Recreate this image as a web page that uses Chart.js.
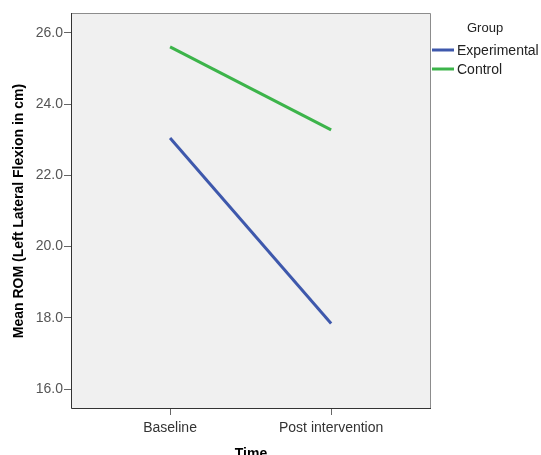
<!DOCTYPE html>
<html>
<head>
<meta charset="utf-8">
<script src="https://cdn.jsdelivr.net/npm/chart.js@4"></script>
<style>
  html, body { margin: 0; padding: 0; background: #fff; }
  #wrap { width: 541px; height: 455px; }
</style>
</head>
<body>
<div id="wrap"><canvas id="romChart"></canvas></div>
<script>
const timePoints = ["Baseline", "Post intervention"]
const experimental = [23.05, 17.84]
const control = [25.61, 23.28]
const yTicks = [16, 18, 20, 22, 24, 26]

const fontFamily = "'Liberation Sans', Arial, sans-serif"

// plot background + frame like SPSS output
const framePlugin = {
    id: "frame",
    beforeDraw(chart) {
        const { ctx, chartArea: a } = chart
        ctx.save()
        ctx.fillStyle = "#f0f0f0"
        ctx.fillRect(a.left, a.top, a.right - a.left, a.bottom - a.top)
        ctx.restore()
    },
    afterDatasetsDraw(chart) {
        const { ctx, chartArea: a } = chart
        ctx.save()
        ctx.lineWidth = 1
        ctx.strokeStyle = "#8c8c8c"
        ctx.beginPath()
        ctx.moveTo(a.left, a.top + 0.5)
        ctx.lineTo(a.right - 0.5, a.top + 0.5)
        ctx.lineTo(a.right - 0.5, a.bottom)
        ctx.stroke()
        ctx.strokeStyle = "#333"
        ctx.beginPath()
        ctx.moveTo(a.left + 0.5, a.top)
        ctx.lineTo(a.left + 0.5, a.bottom - 0.5)
        ctx.lineTo(a.right, a.bottom - 0.5)
        ctx.stroke()
        ctx.restore()
    }
}

// legend on the right with a "Group" heading
const groupLegend = {
    id: "groupLegend",
    afterDraw(chart) {
        const { ctx } = chart
        ctx.save()
        ctx.font = "13px " + fontFamily
        ctx.fillStyle = "#222"
        ctx.textBaseline = "middle"
        ctx.fillText("Group", 467, 28)
        ctx.font = "14px " + fontFamily
        chart.data.datasets.forEach((ds, i) => {
            const y = 50 + i * 19
            ctx.strokeStyle = ds.borderColor
            ctx.lineWidth = 3
            ctx.beginPath()
            ctx.moveTo(432, y)
            ctx.lineTo(454, y)
            ctx.stroke()
            ctx.fillStyle = "#222"
            ctx.fillText(ds.label, 457, y + 1)
        })
        ctx.restore()
    }
}

const toPoints = vals => vals.map((v, i) => ({ x: i + 1, y: v }))

new Chart(document.getElementById("romChart"), {
    type: "line",
    data: {
        datasets: [
            { label: "Experimental", data: toPoints(experimental), borderColor: "#3e58ac", borderWidth: 3, pointRadius: 0, tension: 0 },
            { label: "Control", data: toPoints(control), borderColor: "#3cb44a", borderWidth: 3, pointRadius: 0, tension: 0 }
        ]
    },
    options: {
        responsive: true,
        maintainAspectRatio: false,
        animation: false,
        layout: { padding: { left: 0, right: 110, top: 13, bottom: 0 } },
        plugins: { legend: { display: false }, tooltip: { enabled: false } },
        scales: {
            x: {
                type: "linear",
                min: 0.385,
                max: 2.62,
                afterBuildTicks: axis => { axis.ticks = timePoints.map((_, i) => ({ value: i + 1 })) },
                afterFit: axis => { axis.height = 46 },
                ticks: {
                    callback: v => timePoints[v - 1],
                    color: "#333",
                    font: { family: fontFamily, size: 14 },
                    padding: 5,
                    maxRotation: 0
                },
                grid: { drawOnChartArea: false, tickLength: 6, color: "#666" },
                border: { display: false },
                title: {
                    display: true,
                    text: "Time",
                    color: "#000",
                    font: { family: fontFamily, size: 14, weight: "bold" },
                    padding: { top: 0, bottom: -8 }
                }
            },
            y: {
                min: 15.44,
                max: 26.56,
                afterBuildTicks: axis => { axis.ticks = yTicks.map(v => ({ value: v })) },
                afterFit: axis => { axis.width = 71 },
                ticks: {
                    callback: v => v.toFixed(1),
                    color: "#555",
                    font: { family: fontFamily, size: 14 },
                    padding: 1
                },
                grid: { drawOnChartArea: false, tickLength: 7, color: "#666" },
                border: { display: false },
                title: {
                    display: true,
                    text: "Mean ROM (Left Lateral Flexion in cm)",
                    color: "#000",
                    font: { family: fontFamily, size: 14, weight: "bold" },
                    padding: { top: 11, bottom: 0 }
                }
            }
        }
    },
    plugins: [framePlugin, groupLegend]
})
</script>
</body>
</html>
